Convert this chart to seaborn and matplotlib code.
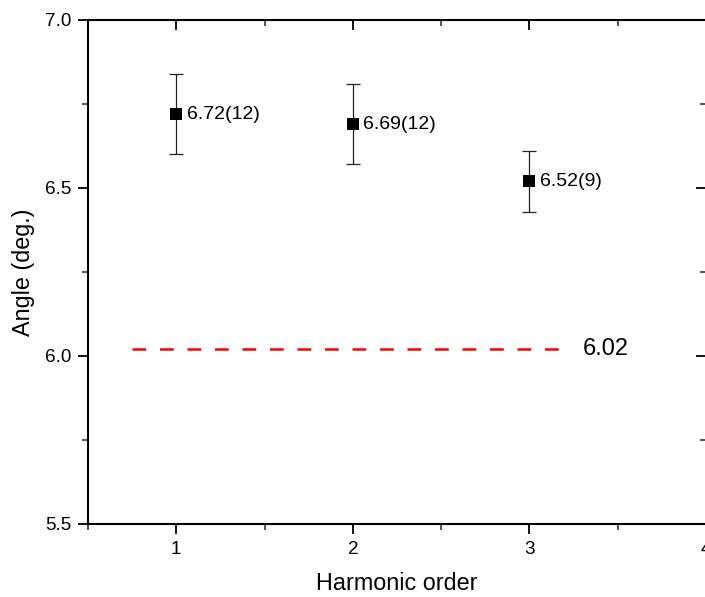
import matplotlib
matplotlib.use("Agg")
import matplotlib.pyplot as plt
import seaborn as sns
import pandas as pd
from matplotlib.ticker import MultipleLocator

# data
orders = [1, 2, 3]
angles = [6.72, 6.69, 6.52]
errors = [0.12, 0.12, 0.09]
point_labels = ["6.72(12)", "6.69(12)", "6.52(9)"]
theory_value = 6.02
theory_span = [0.75, 3.2]

df = pd.DataFrame({"order": orders, "angle": angles, "err": errors, "label": point_labels})

sns.set_style("ticks")
plt.rcParams["font.family"] = ["Liberation Sans", "DejaVu Sans"]
plt.rcParams["text.color"] = "black"
plt.rcParams["axes.labelcolor"] = "black"

fig = plt.figure(figsize=(7.05, 5.97), dpi=100)
ax = fig.add_axes([88 / 705, 73 / 597, 618 / 705, 504 / 597])

# error bars then square markers
ax.errorbar(df["order"], df["angle"], yerr=df["err"], fmt="none",
            ecolor="#222222", elinewidth=0.9, capsize=5, capthick=0.9, zorder=2)
sns.scatterplot(data=df, x="order", y="angle", marker="s", s=70, color="black",
                edgecolor="black", linewidth=0, ax=ax, zorder=3)

for _, r in df.iterrows():
    ax.annotate(r["label"], (r["order"], r["angle"]), xytext=(7.5, 0),
                textcoords="offset points", va="center", ha="left", fontsize=14)

# theoretical value
ax.plot(theory_span, [theory_value, theory_value], color="red", ls=(0, (5.5, 5.5)), lw=1.8)
ax.text(3.3, theory_value, f"{theory_value:.2f}", fontsize=17, va="center", ha="left")

ax.set_xlim(0.5, 4.0)
ax.set_ylim(5.5, 7.0)
ax.xaxis.set_major_locator(MultipleLocator(1))
ax.xaxis.set_minor_locator(MultipleLocator(0.5))
ax.yaxis.set_major_locator(MultipleLocator(0.5))
ax.yaxis.set_minor_locator(MultipleLocator(0.25))
ax.yaxis.set_major_formatter(matplotlib.ticker.FormatStrFormatter("%.1f"))

ax.set_xlabel("Harmonic order", fontsize=16.8, labelpad=10)
ax.set_ylabel("Angle (deg.)", fontsize=16.8, labelpad=7)

for s in ax.spines.values():
    s.set_visible(True)
    s.set_linewidth(1.5)
    s.set_color("black")

ax.tick_params(axis="both", which="major", direction="out", length=7, width=1.3,
               labelsize=13.6, colors="black", pad=5)
ax.tick_params(axis="both", which="minor", direction="out", length=4, width=1.1)
ax.tick_params(top=True, right=True, which="both")
# top and right ticks point inward
for t in ax.xaxis.get_major_ticks() + ax.xaxis.get_minor_ticks():
    t.tick2line.set_marker(3)
for t in ax.yaxis.get_major_ticks() + ax.yaxis.get_minor_ticks():
    t.tick2line.set_marker(0)

fig.savefig("out.png", dpi=100)
